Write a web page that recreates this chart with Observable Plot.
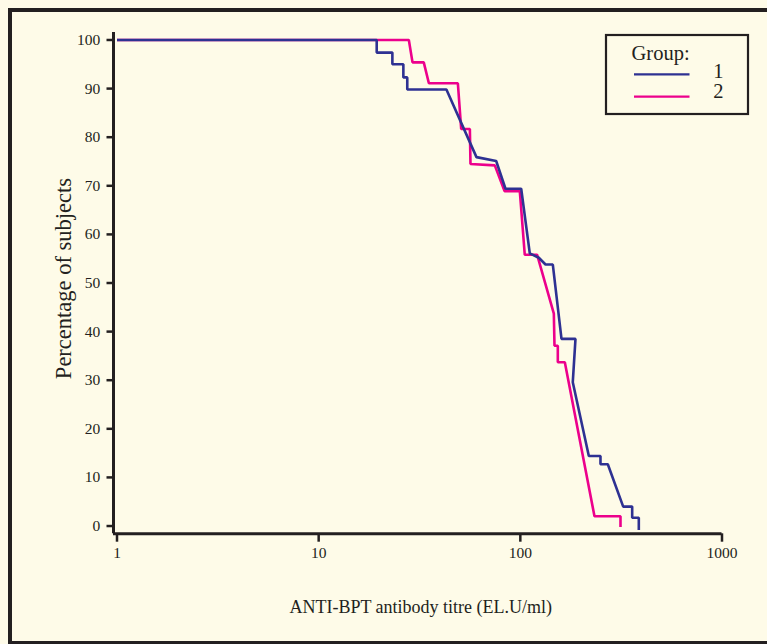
<!DOCTYPE html>
<html>
<head>
<meta charset="utf-8">
<script src="https://cdn.jsdelivr.net/npm/d3@7"></script>
<script src="https://cdn.jsdelivr.net/npm/@observablehq/plot@0.6"></script>
<style>
  html, body { margin: 0; padding: 0; background: #fefbe8; overflow: hidden; }
  #wrap { position: relative; width: 767px; height: 644px; }
  #chart { position: absolute; left: 0; top: 0; }
  #frame { position: absolute; left: 8px; top: 8px; width: 800px; height: 637px;
           box-sizing: border-box; border: 4px solid #231f20; pointer-events: none; }
  #legend { position: absolute; left: 0; top: 0; }
</style>
</head>
<body>
<div id="wrap">
  <div id="chart"></div>
  <div id="frame"></div>
  <svg id="legend" width="767" height="140"></svg>
</div>
<script>
// ---- data ----
const groups = ["1", "2"];
const groupColors = ["#2e3192", "#ec008c"];

const group1Titre = [1, 19.4, 19.4, 23.2, 23.2, 26.3, 26.3, 27.5, 27.5, 43.0,
                     60.6, 75.9, 84.4, 101, 111.4, 123.5, 133.3, 144.9, 160, 187.7,
                     182, 218.6, 249.7, 249.7, 271.5, 323.6, 358.6, 358.6, 386.8, 386.8];
const group1Pct   = [100, 100, 97.4, 97.4, 95.0, 95.0, 92.3, 92.3, 89.8, 89.8,
                     75.9, 75.1, 69.4, 69.4, 56.1, 55.2, 53.8, 53.8, 38.5, 38.5,
                     29.6, 14.4, 14.4, 12.7, 12.7, 4.0, 4.0, 1.7, 1.7, -0.8];

const group2Titre = [1, 28.0, 29.2, 33.2, 35.2, 49.0, 50.9, 56.2, 56.6, 74.7,
                     83.5, 99.4, 105.2, 121.2, 146.6, 147.7, 153.4, 153.4, 166.2, 233.2,
                     313.8, 313.8];
const group2Pct   = [100, 100, 95.4, 95.4, 91.1, 91.1, 81.7, 81.7, 74.5, 74.2,
                     68.9, 68.9, 55.8, 55.8, 43.7, 37.1, 37.1, 33.7, 33.7, 2.0,
                     2.0, -0.2];

const yTicks = [0, 10, 20, 30, 40, 50, 60, 70, 80, 90, 100];
const xTicks = [1, 10, 100, 1000];
const xTitle = "ANTI-BPT antibody titre (EL.U/ml)";
const yTitle = "Percentage of subjects";
const legendTitle = "Group:";

// ---- table ----
const rows1 = group1Titre.map((t, i) => ({group: groups[0], titre: t, pct: group1Pct[i]}));
const rows2 = group2Titre.map((t, i) => ({group: groups[1], titre: t, pct: group2Pct[i]}));

const ink = "#231f20";
const font = "'Liberation Serif', 'Times New Roman', serif";
const xDomain = [0.9608, 1000];
const yDomain = [-1.6, 101.54];

const chart = Plot.plot({
  width: 767,
  height: 644,
  marginLeft: 113,
  marginRight: 45.5,
  marginTop: 32,
  marginBottom: 110.7,
  style: {background: "transparent", fontFamily: font, color: ink, overflow: "visible"},
  x: {type: "log", domain: xDomain, axis: null},
  y: {domain: yDomain, axis: null},
  color: {domain: groups, range: groupColors},
  marks: [
    Plot.axisY({ticks: yTicks, tickSize: 6.5, tickPadding: 6.7, fontSize: 15.5,
                stroke: ink, strokeWidth: 2.5, fill: ink, label: null}),
    Plot.axisX({ticks: xTicks, tickSize: 8.4, tickPadding: 4.5, fontSize: 15.5,
                stroke: ink, strokeWidth: 2.5, fill: ink, label: null,
                tickFormat: d => String(d)}),
    Plot.ruleX([xDomain[0]], {stroke: ink, strokeWidth: 3}),
    Plot.ruleY([yDomain[0]], {stroke: ink, strokeWidth: 3}),
    Plot.line(rows2, {x: "titre", y: "pct", stroke: "group", strokeWidth: 2.6,
                      strokeLinejoin: "miter", strokeLinecap: "butt"}),
    Plot.line(rows1, {x: "titre", y: "pct", stroke: "group", strokeWidth: 2.6,
                      strokeLinejoin: "miter", strokeLinecap: "butt"}),
    Plot.text([xTitle], {frameAnchor: "bottom", dx: 3, dy: 73.7, lineAnchor: "middle",
                         textAnchor: "middle", fontSize: 18, fill: ink, fontFamily: font}),
    Plot.text([yTitle], {frameAnchor: "left", rotate: -90, dx: -49.7, dy: -4.6,
                         lineAnchor: "middle", textAnchor: "middle",
                         fontSize: 22.5, fill: ink, fontFamily: font})
  ]
});
document.getElementById("chart").appendChild(chart);

// ---- legend ----
const lg = d3.select("#legend");
lg.append("rect").attr("x", 606).attr("y", 35).attr("width", 142).attr("height", 79)
  .attr("fill", "none").attr("stroke", ink).attr("stroke-width", 2.2);
lg.append("text").attr("x", 631.5).attr("y", 60).text(legendTitle)
  .attr("font-family", font).attr("font-size", 20.5).attr("fill", ink);
groups.forEach((g, i) => {
  const y = 74.3 + i * 22.4;
  lg.append("line").attr("x1", 634).attr("x2", 689.5).attr("y1", y).attr("y2", y)
    .attr("stroke", groupColors[i]).attr("stroke-width", 2.2);
  lg.append("text").attr("x", 718.3).attr("y", 77.5 + i * 20.5).attr("text-anchor", "middle")
    .text(g).attr("font-family", font).attr("font-size", 20.5).attr("fill", ink);
});
</script>
</body>
</html>
